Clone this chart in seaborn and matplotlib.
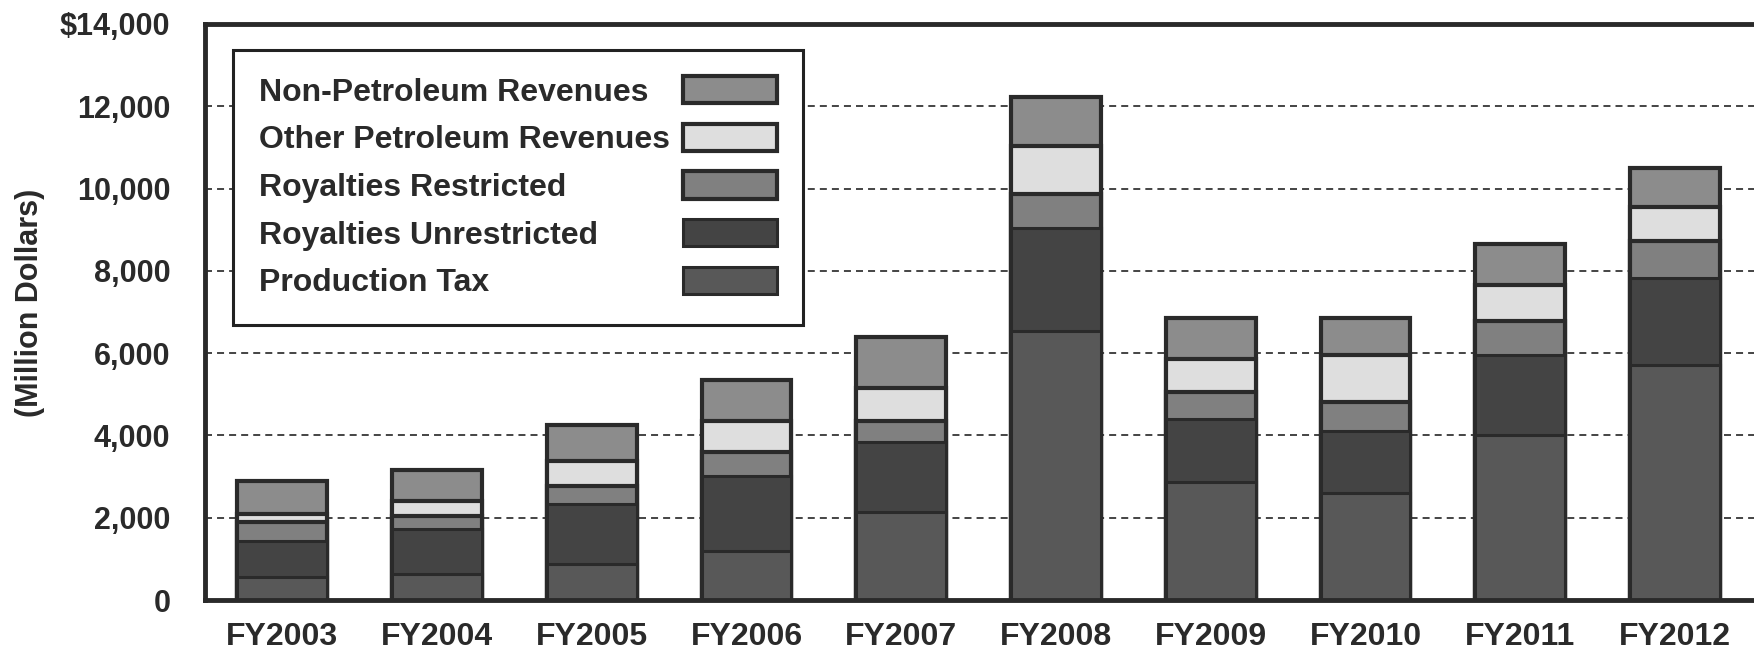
import matplotlib
matplotlib.use("Agg")
import matplotlib.pyplot as plt
import seaborn as sns
import pandas as pd

# revenue by fiscal year, million dollars
years = ["FY2003", "FY2004", "FY2005", "FY2006", "FY2007",
         "FY2008", "FY2009", "FY2010", "FY2011", "FY2012"]
production_tax = [550, 620, 880, 1200, 2150, 6550, 2880, 2600, 4020, 5720]
royalties_unrestricted = [880, 1100, 1450, 1820, 1700, 2500, 1520, 1500, 1940, 2100]
royalties_restricted = [470, 330, 450, 580, 500, 830, 660, 720, 830, 910]
other_petroleum = [200, 350, 600, 750, 800, 1150, 800, 1140, 860, 810]
non_petroleum = [800, 750, 870, 1000, 1250, 1200, 1000, 900, 1000, 970]

series_names = ["Production Tax", "Royalties Unrestricted", "Royalties Restricted",
                "Other Petroleum Revenues", "Non-Petroleum Revenues"]
ytick_values = [0, 2000, 4000, 6000, 8000, 10000, 12000, 14000]
ytick_labels = ["0", "2,000", "4,000", "6,000", "8,000", "10,000", "12,000", "$14,000"]

colors = {
    "Production Tax": "#585858",
    "Royalties Unrestricted": "#444444",
    "Royalties Restricted": "#808080",
    "Other Petroleum Revenues": "#dedede",
    "Non-Petroleum Revenues": "#8c8c8c",
}
ink = "#2a2a2a"

sns.set_theme(style="white")
plt.rcParams["font.family"] = ["Liberation Sans", "DejaVu Sans"]
plt.rcParams["font.weight"] = "bold"

df = pd.DataFrame({
    "year": years,
    "Production Tax": production_tax,
    "Royalties Unrestricted": royalties_unrestricted,
    "Royalties Restricted": royalties_restricted,
    "Other Petroleum Revenues": other_petroleum,
    "Non-Petroleum Revenues": non_petroleum,
})
# cumulative tops, drawn from the tallest down so each layer covers the one below
cum = df[series_names].cumsum(axis=1)

fig = plt.figure(figsize=(17.54, 6.52), dpi=100)
ax = fig.add_axes([205 / 1754, 52 / 652, 1549 / 1754, 576 / 652])

for name in reversed(series_names):
    lw = 3.0 if name in ("Non-Petroleum Revenues", "Other Petroleum Revenues",
                         "Royalties Restricted") else 2.2
    sns.barplot(x=df["year"], y=cum[name], color=colors[name], width=0.58,
                edgecolor=ink, linewidth=lw, label=name, ax=ax, errorbar=None,
                saturation=1, zorder=3)

ax.set_xlim(-0.5, 9.51)
ax.set_ylim(0, 14000)
ax.set_yticks(ytick_values)
ax.set_yticklabels(ytick_labels)
ax.set_xlabel("")
ax.set_ylabel("(Million Dollars)", fontsize=22, fontweight="bold", color=ink)
ax.yaxis.set_label_coords(-0.103, 0.515)

ax.tick_params(axis="y", length=0, pad=25, labelsize=22, labelcolor=ink)
ax.tick_params(axis="x", length=0, pad=16, labelsize=23, labelcolor=ink)
for lab in ax.get_xticklabels() + ax.get_yticklabels():
    lab.set_fontweight("bold")

ax.set_axisbelow(True)
ax.yaxis.grid(True, color="#444444", linestyle=(0, (3.6, 2.6)), linewidth=1.4)
ax.xaxis.grid(False)

for side in ["left", "bottom", "top"]:
    ax.spines[side].set_visible(True)
    ax.spines[side].set_color(ink)
    ax.spines[side].set_linewidth(3.5)
    ax.spines[side].set_zorder(5)
ax.spines["right"].set_visible(False)

leg_size = 23
text_pad = 0.4
leg = ax.legend(loc="upper left", bbox_to_anchor=(0.018, 0.955), borderaxespad=0,
                markerfirst=False, fancybox=False, framealpha=1, edgecolor="#222222",
                prop={"size": leg_size, "weight": "bold"}, handlelength=2.94,
                handleheight=0.94, handletextpad=text_pad, labelspacing=0.5,
                borderpad=0.82)
leg.get_frame().set_linewidth(2.2)
leg.set_zorder(6)
for t in leg.get_texts():
    t.set_color(ink)

# left-align the labels while keeping the swatches in one column on the right
fig.canvas.draw()
renderer = fig.canvas.get_renderer()
widths = [t.get_window_extent(renderer).width * 72 / fig.dpi for t in leg.get_texts()]
max_w = max(widths)
rows = leg._legend_handle_box.get_children()[0].get_children()
for row, w in zip(rows, widths):
    row.sep = text_pad * leg_size + (max_w - w)

fig.savefig("out.png", dpi=100)
